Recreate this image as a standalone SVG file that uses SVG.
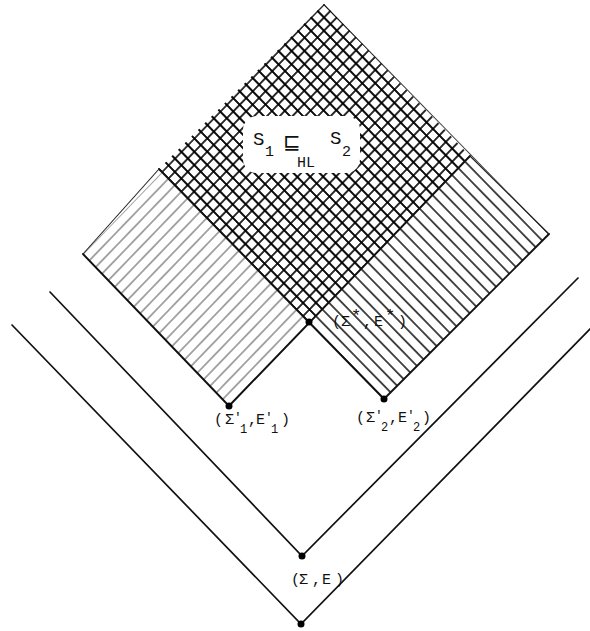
<svg xmlns="http://www.w3.org/2000/svg" width="590" height="631" viewBox="0 0 590 631">
<style>
.arm{stroke:#111;stroke-width:1.9;fill:none;stroke-linecap:round}
.v{stroke:#111;stroke-width:1.7;fill:none;stroke-linecap:round;stroke-linejoin:miter}
.edge{stroke:#222;stroke-width:1.1;fill:none}
.dot{fill:#000}
.t{font-family:"Liberation Mono","DejaVu Sans Mono",monospace;fill:#111;font-size:15px}
.big{font-size:19px}
.sub{font-size:12px}
.pr{font-size:13px}
.st{font-size:17px}
.sym{font-family:"DejaVu Sans","Liberation Sans",sans-serif;font-size:21px}
</style>
<defs>
<pattern id="h1" patternUnits="userSpaceOnUse" width="60" height="9.16" patternTransform="translate(229 406) rotate(-46) translate(0 -4.58)">
<line x1="0" y1="4.58" x2="60" y2="4.58" stroke="#444" stroke-width="1"/>
</pattern>
<pattern id="h2" patternUnits="userSpaceOnUse" width="60" height="9.33" patternTransform="translate(384 399) rotate(45.63) translate(0 -4.665)">
<line x1="0" y1="4.665" x2="60" y2="4.665" stroke="#000" stroke-width="1.3"/>
</pattern>
<pattern id="h1b" patternUnits="userSpaceOnUse" width="60" height="9.16" patternTransform="translate(229 406) rotate(-46) translate(0 -4.58)">
<line x1="0" y1="4.58" x2="60" y2="4.58" stroke="#000" stroke-width="1.6"/>
</pattern>
<pattern id="h2b" patternUnits="userSpaceOnUse" width="60" height="9.33" patternTransform="translate(384 399) rotate(45.63) translate(0 -4.665)">
<line x1="0" y1="4.665" x2="60" y2="4.665" stroke="#000" stroke-width="1.6"/>
</pattern>
</defs>
<rect width="590" height="631" fill="#fff"/>

<g id="region-s1">
<polygon points="229,406 83,254 324,4 470,156" fill="url(#h1)"/>
</g>
<g id="region-s2">
<polygon points="384,399 549,234 324,4 159,169" fill="url(#h2)"/>
</g>
<g id="region-overlap">
<polygon points="309,322 470,156 324,4 159,169" fill="url(#h1b)"/>
<polygon points="309,322 470,156 324,4 159,169" fill="url(#h2b)"/>
</g>

<g id="connectors">
<line class="arm" x1="229" y1="406" x2="83" y2="254"/>
<line class="arm" x1="229" y1="406" x2="470" y2="156"/>
<line class="arm" x1="384" y1="399" x2="159" y2="169"/>
<line class="arm" x1="384" y1="399" x2="549" y2="234"/>
<line class="edge" x1="83" y1="254" x2="159" y2="169"/>
<line class="edge" x1="470" y1="156" x2="549" y2="234"/>
<polyline class="v" points="50,292 302,556 578,278"/>
<polyline class="v" points="12,325 301,624 591,328"/>
</g>

<g id="label-order">
<rect x="243" y="116" width="117" height="57" rx="14" fill="#fff"/>
<text class="t big" x="253" y="145">S</text>
<text class="t" x="265" y="156">1</text>
<text class="t sym" x="283" y="149">⊑</text>
<text class="t" x="297" y="167">HL</text>
<text class="t big" x="330" y="144">S</text>
<text class="t" x="342" y="156">2</text>
</g>

<g id="node-star">
<circle class="dot" cx="309" cy="322" r="3.5"/>
<text class="t"><tspan x="332" y="326">(</tspan><tspan x="341" y="326">Σ</tspan><tspan x="351" y="321" class="st">*</tspan><tspan x="363" y="326">,</tspan><tspan x="374" y="326">E</tspan><tspan x="385" y="321" class="st">*</tspan><tspan x="398" y="326">)</tspan></text>
</g>

<g id="node-s1prime">
<circle class="dot" cx="229" cy="406" r="3.5"/>
<text class="t"><tspan x="214" y="424">(</tspan><tspan x="225" y="424">Σ</tspan><tspan x="234" y="421" class="pr">'</tspan><tspan x="240" y="433" class="sub">1</tspan><tspan x="248" y="424">,</tspan><tspan x="256" y="424">E</tspan><tspan x="265" y="421" class="pr">'</tspan><tspan x="271" y="433" class="sub">1</tspan><tspan x="281" y="424">)</tspan></text>
</g>

<g id="node-s2prime">
<circle class="dot" cx="384" cy="399" r="3.5"/>
<text class="t"><tspan x="356" y="422">(</tspan><tspan x="366" y="422">Σ</tspan><tspan x="375" y="419" class="pr">'</tspan><tspan x="381" y="431" class="sub">2</tspan><tspan x="389" y="422">,</tspan><tspan x="398" y="422">E</tspan><tspan x="407" y="419" class="pr">'</tspan><tspan x="413" y="431" class="sub">2</tspan><tspan x="422" y="422">)</tspan></text>
</g>

<g id="node-sigmaE">
<circle class="dot" cx="302" cy="556" r="3.5"/>
<text class="t"><tspan x="291" y="584">(</tspan><tspan x="299" y="584">Σ</tspan><tspan x="312" y="584">,</tspan><tspan x="322" y="584">E</tspan><tspan x="335" y="584">)</tspan></text>
</g>

<g id="node-bottom">
<circle class="dot" cx="301" cy="624" r="3.5"/>
</g>
</svg>
